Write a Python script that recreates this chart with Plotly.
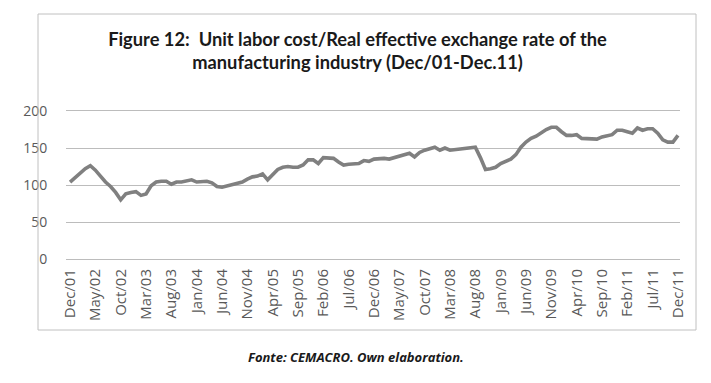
import plotly.graph_objects as go

# Monthly values, Dec/01 .. Dec/11 (121 months)
month_index = list(range(121))
ulc_reer = [
    104, 110, 115, 122, 126, 120, 112, 104, 98, 90,
    80, 88, 90, 91, 86, 88, 99, 104, 105, 105,
    101, 104, 104, 106, 107, 104, 105, 105, 103, 98,
    97, 99, 101, 103, 104, 108, 111, 112, 115, 107,
    114, 121, 124, 125, 124, 124, 127, 134, 134, 129,
    137, 136, 136, 131, 127, 128, 129, 129, 133, 132,
    135, 136, 136, 135, 137, 139, 141, 143, 138, 144,
    147, 149, 151, 147, 150, 147, 148, 148, 150, 151,
    151, 137, 121, 122, 124, 129, 132, 135, 141, 151,
    158, 163, 166, 171, 175, 178, 178, 172, 167, 167,
    168, 163, 163, 162, 162, 165, 167, 168, 174, 174,
    172, 170, 177, 174, 176, 176, 170, 161, 158, 158,
    167,
]
tick_positions = list(range(0, 121, 5))
tick_labels = [
    "Dec/01", "May/02", "Oct/02", "Mar/03", "Aug/03", "Jan/04", "Jun/04",
    "Nov/04", "Apr/05", "Sep/05", "Feb/06", "Jul/06", "Dec/06", "May/07",
    "Oct/07", "Mar/08", "Aug/08", "Jan/09", "Jun/09", "Nov/09", "Apr/10",
    "Sep/10", "Feb/11", "Jul/11", "Dec/11",
]
y_ticks = [0, 50, 100, 150, 200]

# page has an 8px body margin, so the figure is shrunk and shifted by it
OFF = 8
W, H = 711 - OFF, 383 - OFF
L, R, T, B = 58, 31, 103, 124
pw, ph = W - L - R, H - T - B
GRID = "#bcbcbc"


def px_x(px):
    return (px - OFF - L) / pw


def px_y(py):
    return (H - B - (py - OFF)) / ph


fig = go.Figure()
fig.add_trace(go.Scatter(
    x=month_index, y=ulc_reer, mode="lines",
    line=dict(color="#808080", width=3.6),
    hoverinfo="x+y", showlegend=False,
))

fig.update_layout(
    width=W, height=H,
    margin=dict(l=L, r=R, t=T, b=B, autoexpand=False),
    paper_bgcolor="white", plot_bgcolor="white",
    title=dict(
        text="<b>Figure 12:  Unit labor cost/Real effective exchange rate of the<br>manufacturing industry (Dec/01-Dec.11)</b>",
        x=349.5 / W, xref="container", xanchor="center",
        y=1 - 37.5 / H, yref="container", yanchor="middle",
        font=dict(family="Lato", size=18.3, color="#1a1a1a"),
    ),
    xaxis=dict(
        range=[-0.8, 120.4],
        tickmode="array", tickvals=tick_positions, ticktext=tick_labels,
        tickangle=-90, showgrid=False, zeroline=False,
        showline=True, linecolor=GRID, linewidth=1, mirror=True,
        ticks="outside", ticklen=3, tickcolor="rgba(0,0,0,0)",
        tickfont=dict(family="Open Sans", size=15, color="#595959"),
    ),
    yaxis=dict(
        range=[0, 200], dtick=50, tick0=0,
        showgrid=True, gridcolor=GRID, gridwidth=1, griddash="solid",
        zeroline=False, showline=False,
        ticks="outside", ticklen=15, tickcolor="rgba(0,0,0,0)",
        tickfont=dict(family="Open Sans", size=14, color="#595959"),
    ),
    shapes=[dict(
        type="rect", xref="paper", yref="paper",
        x0=px_x(38), x1=px_x(696), y0=px_y(330), y1=px_y(14),
        line=dict(color="#c0c0c0", width=1), fillcolor="rgba(0,0,0,0)",
    )],
    annotations=[dict(
        text="<b><i>Fonte: CEMACRO. Own elaboration.</i></b>",
        xref="paper", yref="paper", x=px_x(355.5), y=px_y(357),
        xanchor="center", yanchor="middle", showarrow=False,
        font=dict(family="Open Sans", size=13, color="#1a1a1a"),
    )],
)

fig.write_html("out.html")
